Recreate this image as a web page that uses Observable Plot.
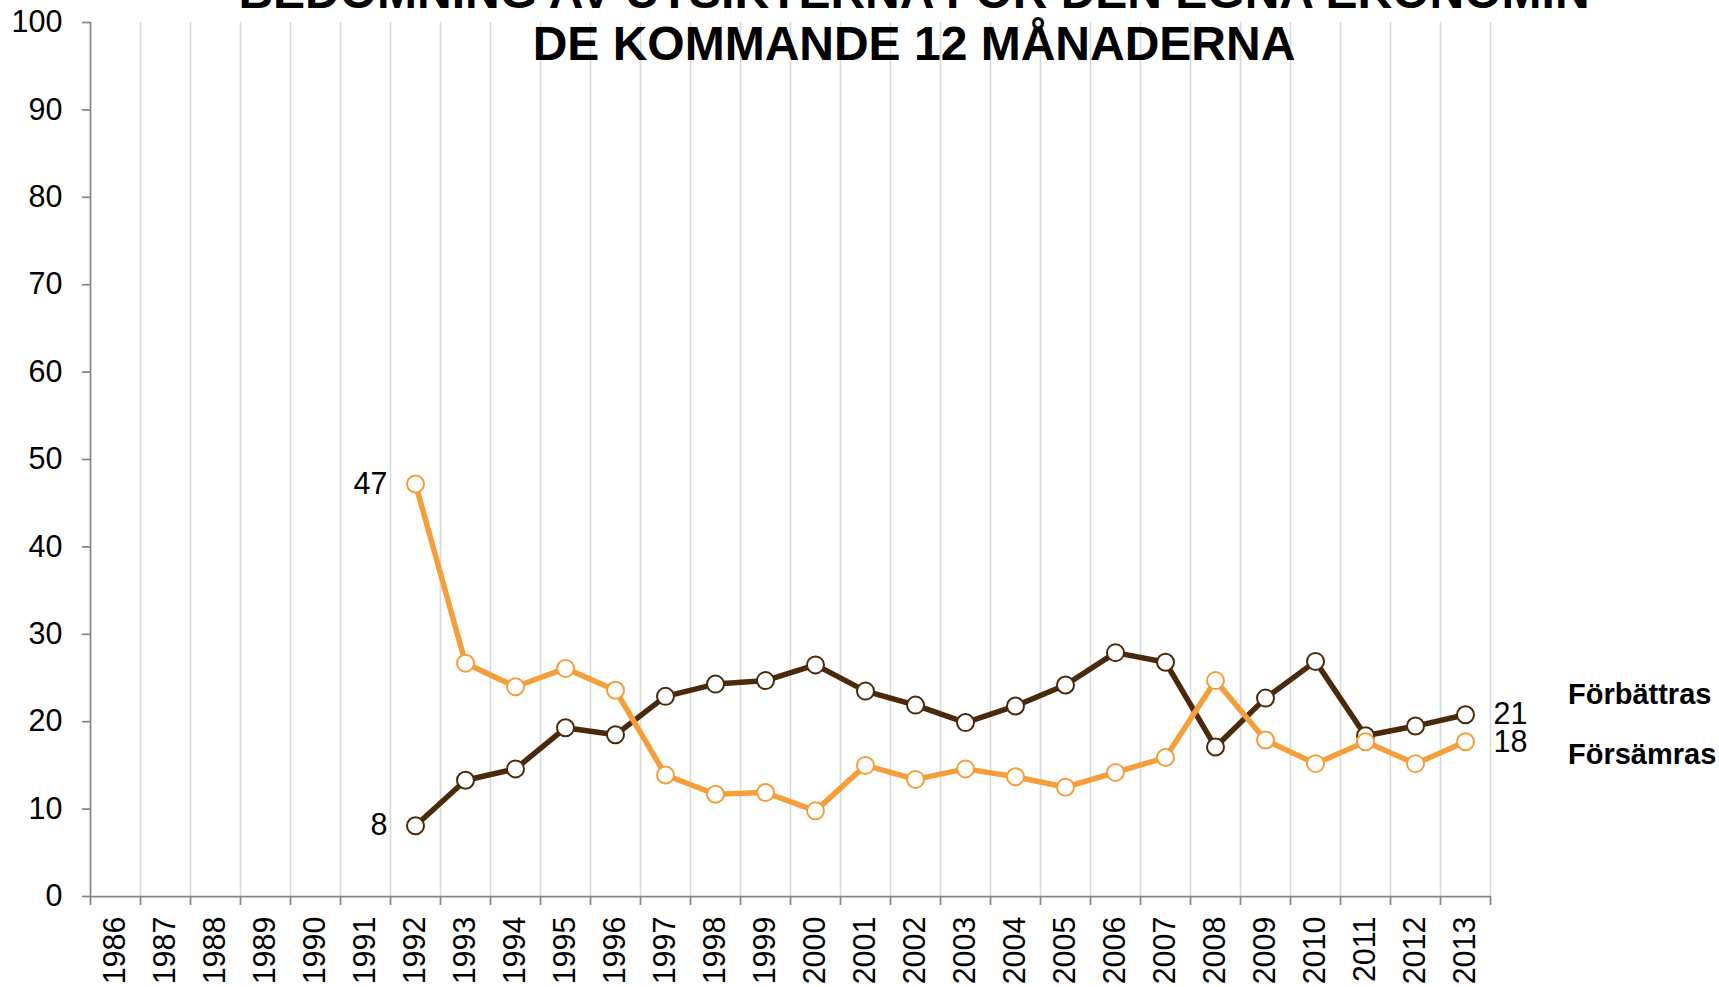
<!DOCTYPE html>
<html>
<head>
<meta charset="utf-8">
<script src="https://cdn.jsdelivr.net/npm/d3@7"></script>
<script src="https://cdn.jsdelivr.net/npm/@observablehq/plot@0.6"></script>
<style>
  html, body { margin: 0; padding: 0; background: #fff; overflow: hidden; }
  #wrap { position: relative; width: 1719px; height: 987px; font-family: "Liberation Sans", Arial, sans-serif; }
  #title { position: absolute; top: -34.5px; left: 914px; transform: translateX(-50%); white-space: nowrap;
           text-align: center; font-weight: bold; font-size: 48px; line-height: 52.6px; color: #000; z-index: 2; }
  .leg { position: absolute; left: 1568px; font-weight: bold; font-size: 29px; line-height: 29px; color: #000; white-space: nowrap; }
  svg { display: block; }
</style>
</head>
<body>
<div id="wrap">
  <div id="title">BEDÖMNING AV UTSIKTERNA FÖR DEN EGNA EKONOMIN<br>DE KOMMANDE 12 MÅNADERNA</div>
  <div class="leg" style="top:680px">Förbättras</div>
  <div class="leg" style="top:740px">Försämras</div>
</div>
<script>
// Category axis (tick labels)
const years = [1986, 1987, 1988, 1989, 1990, 1991, 1992, 1993, 1994, 1995, 1996, 1997, 1998, 1999,
               2000, 2001, 2002, 2003, 2004, 2005, 2006, 2007, 2008, 2009, 2010, 2011, 2012, 2013];
// Years with survey values
const dataYears = [1992, 1993, 1994, 1995, 1996, 1997, 1998, 1999, 2000, 2001, 2002,
                   2003, 2004, 2005, 2006, 2007, 2008, 2009, 2010, 2011, 2012, 2013];
const forbattras = [8.1, 13.3, 14.6, 19.3, 18.5, 22.9, 24.3, 24.7, 26.5, 23.5, 21.9,
                    19.9, 21.8, 24.2, 27.9, 26.8, 17.1, 22.7, 26.9, 18.4, 19.5, 20.8];
const forsamras = [47.2, 26.7, 24.0, 26.1, 23.6, 13.9, 11.7, 11.9, 9.8, 15.0, 13.4,
                   14.6, 13.7, 12.5, 14.2, 15.9, 24.7, 17.9, 15.2, 17.7, 15.2, 17.7];
const yTicks = [0, 10, 20, 30, 40, 50, 60, 70, 80, 90, 100];
const seriesNames = ["Förbättras", "Försämras"];

const colDark = "#4a2a0a";
const colOrange = "#f59e3a";
const axisGray = "#868686";
const numSize = 30.5;

const rowsB = dataYears.map((y, i) => ({year: y, value: forbattras[i], series: seriesNames[0]}));
const rowsS = dataYears.map((y, i) => ({year: y, value: forsamras[i], series: seriesNames[1]}));
const boundaries = [years[0] - 0.5, ...years.map(y => y + 0.5)];
const gridBounds = years.map(y => y + 0.5);

const chart = Plot.plot({
  width: 1719,
  height: 987,
  marginLeft: 90,
  marginRight: 229,
  marginTop: 22,
  marginBottom: 91,
  style: {fontFamily: "Liberation Sans, Arial, sans-serif", fontSize: numSize + "px", background: "transparent"},
  x: {type: "linear", domain: [years[0] - 0.5, years[years.length - 1] + 0.5]},
  y: {domain: [0, 100]},
  marks: [
    Plot.ruleX(gridBounds, {stroke: "#d9d9d9", strokeWidth: 1.6}),
    Plot.ruleX([boundaries[0]], {stroke: axisGray, strokeWidth: 1.75}),
    Plot.ruleY([0], {stroke: axisGray, strokeWidth: 1.75}),
    Plot.axisY({ticks: yTicks, tickSize: 8, tickPadding: 20, stroke: axisGray, strokeWidth: 1.75, fontSize: numSize, label: null}),
    Plot.axisX(boundaries, {tickSize: 9, stroke: axisGray, strokeWidth: 1.75, fill: "none", label: null}),
    Plot.axisX(years, {tickSize: 0, tickPadding: 20, tickRotate: -90, tickFormat: d => String(d), fontSize: numSize, label: null}),
    Plot.line(rowsB, {x: "year", y: "value", stroke: colDark, strokeWidth: 5.5, curve: "linear"}),
    Plot.dot(rowsB, {x: "year", y: "value", r: 8.5, fill: "white", stroke: colDark, strokeWidth: 2}),
    Plot.line(rowsS, {x: "year", y: "value", stroke: colOrange, strokeWidth: 5.5, curve: "linear"}),
    Plot.dot(rowsS, {x: "year", y: "value", r: 8.5, fill: "white", stroke: colOrange, strokeWidth: 2}),
    Plot.text([rowsB[0], rowsS[0]], {x: "year", y: "value", text: d => String(Math.round(d.value)), dx: -28, textAnchor: "end", fontSize: numSize, fill: "black"}),
    Plot.text([rowsB[rowsB.length - 1], rowsS[rowsS.length - 1]], {x: "year", y: "value", text: d => String(Math.round(d.value)), dx: 28, textAnchor: "start", fontSize: numSize, fill: "black"})
  ]
});
document.getElementById("wrap").prepend(chart);
</script>
</body>
</html>
